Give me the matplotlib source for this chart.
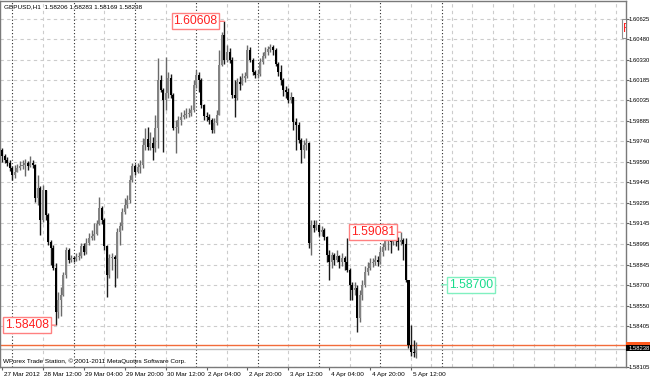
#!/usr/bin/env python3
'''
GBPUSD H1 candles, MetaTrader 4 look, 27 Mar - 5 Apr 2012
'''
import numpy as np
import matplotlib
matplotlib.use('Agg')
import matplotlib.pyplot as plt
from matplotlib.patches import Rectangle
from matplotlib.transforms import ScaledTranslation

symbol = 'GBPUSD,H1'

opens = [1.59676, 1.59633, 1.59604, 1.59582, 1.59546, 1.59495, 1.59517, 1.59546, 1.59560, 1.59567,
         1.59582, 1.59560, 1.59582, 1.59567, 1.59328, 1.59401, 1.59169, 1.59386, 1.59205, 1.59010,
         1.58966, 1.58822, 1.58503, 1.58590, 1.58626, 1.58771, 1.58952, 1.58880, 1.58894, 1.58887,
         1.58901, 1.58909, 1.58981, 1.58938, 1.59003, 1.59039, 1.59053, 1.59068, 1.59140, 1.59256,
         1.59169, 1.58981, 1.58771, 1.58894, 1.58901, 1.58887, 1.59082, 1.59126, 1.59227, 1.59278,
         1.59314, 1.59459, 1.59560, 1.59517, 1.59553, 1.59567, 1.59712, 1.59756, 1.59698, 1.59727,
         1.59690, 1.59835, 1.60183, 1.60110, 1.60038, 1.60089, 1.60197, 1.60074, 1.59835, 1.59843,
         1.59893, 1.59915, 1.59929, 1.59937, 1.59944, 1.59966, 1.60147, 1.60219, 1.60183, 1.60002,
         1.59922, 1.59915, 1.59893, 1.59821, 1.59871, 1.59929, 1.60291, 1.60509, 1.60328, 1.60386,
         1.60328, 1.60074, 1.60052, 1.60168, 1.60154, 1.60197, 1.60212, 1.60400, 1.60328, 1.60241,
         1.60219, 1.60226, 1.60313, 1.60357, 1.60386, 1.60407, 1.60422, 1.60400, 1.60299, 1.60241,
         1.60183, 1.60110, 1.60096, 1.60038, 1.60060, 1.59879, 1.59857, 1.59748, 1.59676, 1.59712,
         1.59727, 1.59003, 1.59133, 1.59111, 1.59133, 1.59082, 1.59097, 1.59046, 1.58916, 1.58865,
         1.58916, 1.58880, 1.58909, 1.58865, 1.58894, 1.58865, 1.58807, 1.58699, 1.58662, 1.58677,
         1.58460, 1.58626, 1.58699, 1.58793, 1.58822, 1.58858, 1.58865, 1.58880, 1.58865, 1.58938,
         1.58974, 1.59024, 1.59039, 1.59010, 1.59039, 1.59024, 1.59010, 1.59024, 1.58995, 1.58735,
         1.58264, 1.58213, 1.58206]

highs = [1.59690, 1.59647, 1.59625, 1.59604, 1.59560, 1.59567, 1.59575, 1.59596, 1.59604, 1.59611,
         1.59596, 1.59633, 1.59604, 1.59575, 1.59495, 1.59415, 1.59423, 1.59386, 1.59220, 1.59024,
         1.58988, 1.58858, 1.58648, 1.58684, 1.58793, 1.58974, 1.58966, 1.58916, 1.58909, 1.58930,
         1.58938, 1.59003, 1.59003, 1.59039, 1.59075, 1.59097, 1.59147, 1.59169, 1.59336, 1.59271,
         1.59184, 1.58988, 1.58923, 1.58930, 1.58916, 1.59111, 1.59155, 1.59256, 1.59328, 1.59350,
         1.59495, 1.59582, 1.59575, 1.59582, 1.59604, 1.59763, 1.59835, 1.59843, 1.59806, 1.59770,
         1.59929, 1.60342, 1.60219, 1.60125, 1.60349, 1.60241, 1.60226, 1.60089, 1.59893, 1.59922,
         1.59951, 1.59966, 1.59980, 1.59980, 1.60002, 1.60183, 1.60255, 1.60241, 1.60197, 1.60009,
         1.59951, 1.59937, 1.59908, 1.59908, 1.59966, 1.60400, 1.60530, 1.60608, 1.60436, 1.60414,
         1.60349, 1.60183, 1.60197, 1.60212, 1.60233, 1.60241, 1.60436, 1.60422, 1.60342, 1.60255,
         1.60255, 1.60342, 1.60386, 1.60422, 1.60429, 1.60443, 1.60436, 1.60414, 1.60313, 1.60291,
         1.60197, 1.60139, 1.60125, 1.60096, 1.60060, 1.59908, 1.59879, 1.59763, 1.59748, 1.59763,
         1.59734, 1.59169, 1.59169, 1.59169, 1.59140, 1.59126, 1.59111, 1.59053, 1.58952, 1.58938,
         1.58930, 1.58952, 1.58916, 1.58930, 1.58909, 1.59039, 1.58822, 1.58720, 1.58720, 1.58699,
         1.58662, 1.58735, 1.58836, 1.58865, 1.58894, 1.58894, 1.58916, 1.58909, 1.58974, 1.59003,
         1.59046, 1.59068, 1.59053, 1.59068, 1.59053, 1.59046, 1.59081, 1.59039, 1.59039, 1.58735,
         1.58409, 1.58300, 1.58283]

lows = [1.59589, 1.59582, 1.59560, 1.59524, 1.59459, 1.59473, 1.59517, 1.59531, 1.59538, 1.59488,
        1.59531, 1.59553, 1.59546, 1.59300, 1.59278, 1.59061, 1.59155, 1.59169, 1.58988, 1.58843,
        1.58807, 1.58408, 1.58460, 1.58474, 1.58619, 1.58749, 1.58858, 1.58865, 1.58865, 1.58872,
        1.58880, 1.58894, 1.58916, 1.58923, 1.58988, 1.59024, 1.59024, 1.59061, 1.59133, 1.59140,
        1.58952, 1.58612, 1.58749, 1.58807, 1.58684, 1.58749, 1.58988, 1.59097, 1.59213, 1.59256,
        1.59292, 1.59444, 1.59495, 1.59509, 1.59509, 1.59546, 1.59676, 1.59676, 1.59676, 1.59604,
        1.59662, 1.59690, 1.60096, 1.59662, 1.59966, 1.60052, 1.60052, 1.59821, 1.59654, 1.59799,
        1.59857, 1.59900, 1.59908, 1.59915, 1.59922, 1.59951, 1.60125, 1.60096, 1.59980, 1.59893,
        1.59886, 1.59864, 1.59799, 1.59799, 1.59857, 1.59929, 1.60284, 1.60299, 1.60313, 1.60306,
        1.60052, 1.59915, 1.60038, 1.60110, 1.60147, 1.60168, 1.60197, 1.60313, 1.60219, 1.60197,
        1.60197, 1.60212, 1.60299, 1.60342, 1.60364, 1.60386, 1.60364, 1.60284, 1.60212, 1.60147,
        1.60067, 1.60052, 1.60016, 1.60016, 1.59821, 1.59676, 1.59727, 1.59582, 1.59618, 1.59676,
        1.58966, 1.58916, 1.59082, 1.59097, 1.59053, 1.59053, 1.59024, 1.58865, 1.58735, 1.58822,
        1.58843, 1.58865, 1.58822, 1.58836, 1.58807, 1.58793, 1.58590, 1.58590, 1.58626, 1.58358,
        1.58431, 1.58590, 1.58684, 1.58771, 1.58807, 1.58829, 1.58843, 1.58836, 1.58851, 1.58909,
        1.58952, 1.58952, 1.58930, 1.58988, 1.58981, 1.58952, 1.58988, 1.58880, 1.58720, 1.58242,
        1.58185, 1.58177, 1.58169]

closes = [1.59633, 1.59604, 1.59582, 1.59546, 1.59495, 1.59517, 1.59546, 1.59560, 1.59567, 1.59582,
          1.59560, 1.59582, 1.59567, 1.59328, 1.59401, 1.59169, 1.59386, 1.59205, 1.59010, 1.58966,
          1.58822, 1.58503, 1.58590, 1.58626, 1.58771, 1.58952, 1.58880, 1.58894, 1.58887, 1.58901,
          1.58909, 1.58981, 1.58938, 1.59003, 1.59039, 1.59053, 1.59068, 1.59140, 1.59256, 1.59169,
          1.58981, 1.58771, 1.58894, 1.58901, 1.58887, 1.59082, 1.59126, 1.59227, 1.59278, 1.59314,
          1.59459, 1.59560, 1.59517, 1.59553, 1.59567, 1.59712, 1.59756, 1.59698, 1.59727, 1.59690,
          1.59835, 1.60183, 1.60110, 1.60038, 1.60089, 1.60197, 1.60074, 1.59835, 1.59843, 1.59893,
          1.59915, 1.59929, 1.59937, 1.59944, 1.59966, 1.60147, 1.60219, 1.60183, 1.60002, 1.59922,
          1.59915, 1.59893, 1.59821, 1.59871, 1.59929, 1.60291, 1.60509, 1.60328, 1.60386, 1.60328,
          1.60074, 1.60052, 1.60168, 1.60154, 1.60197, 1.60212, 1.60400, 1.60328, 1.60241, 1.60219,
          1.60226, 1.60313, 1.60357, 1.60386, 1.60407, 1.60422, 1.60400, 1.60299, 1.60241, 1.60183,
          1.60110, 1.60096, 1.60038, 1.60060, 1.59879, 1.59857, 1.59748, 1.59676, 1.59712, 1.59727,
          1.59003, 1.59133, 1.59111, 1.59133, 1.59082, 1.59097, 1.59046, 1.58916, 1.58865, 1.58916,
          1.58880, 1.58909, 1.58865, 1.58894, 1.58865, 1.58807, 1.58699, 1.58662, 1.58677, 1.58460,
          1.58626, 1.58699, 1.58793, 1.58822, 1.58858, 1.58865, 1.58880, 1.58865, 1.58938, 1.58974,
          1.59024, 1.59039, 1.59010, 1.59039, 1.59024, 1.59010, 1.59024, 1.58995, 1.58735, 1.58264,
          1.58213, 1.58206, 1.58238]

ask = 1.58264
level = 1.58700   # green price label

time_labels = ['27 Mar 2012', '28 Mar 12:00', '29 Mar 04:00', '29 Mar 20:00', '30 Mar 12:00',
               '2 Apr 04:00', '2 Apr 20:00', '3 Apr 12:00', '4 Apr 04:00', '4 Apr 20:00',
               '5 Apr 12:00']
price_labels = ['1.60625', '1.60480', '1.60330', '1.60185', '1.60035', '1.59885', '1.59740',
                '1.59590', '1.59445', '1.59295', '1.59145', '1.58995', '1.58845', '1.58700',
                '1.58550', '1.58405', '1.58105']
copyright_text = 'WForex Trade Station, \u00a9 2001-2011 MetaQuotes Software Corp.'

FONT = ['Liberation Sans', 'DejaVu Sans']
W, H, DPI = 650, 378, 100
SMALL = 4.6
SCALE = 4.2
BIG = 8.7

o, h, l, c = map(np.array, (opens, highs, lows, closes))
x = np.arange(len(c))
up = c >= o

fig = plt.figure(figsize=(W / DPI, H / DPI), dpi=DPI, facecolor='white')
ax = fig.add_axes([0, 11 / H, 626 / W, 366 / H])
ax.set_facecolor('white')
ax.set_xlim(-0.81, 244.1)
ax.set_ylim(1.58105, 1.60755)

### grid: light dashed lines + dark dotted day separators
yt = [float(s) for s in price_labels]
for v in yt:
    ax.axhline(v, color='#cccccc', lw=0.8, ls=(0, (3, 3)), zorder=0)
light = list(range(16, 161, 24)) + list(range(168, 244, 8))
for v in light:
    ax.axvline(v, color='#cccccc', lw=0.8, ls=(0, (3, 3)), zorder=0)
for v in range(4, 180, 24):
    ax.axvline(v, color='#2a2a2a', lw=0.8, ls=(0, (1, 2)), zorder=0.5)

### candles
ax.vlines(x[up], l[up], h[up], color='#6a6a6a', lw=1, zorder=2)
ax.vlines(x[~up], l[~up], h[~up], color='#1a1a1a', lw=1, zorder=2)
body_lo = np.minimum(o, c)
body_h = np.maximum(np.abs(c - o), 0.00002)
ax.bar(x[up], body_h[up], 0.8, body_lo[up], color='#838383', lw=0, zorder=3)
ax.bar(x[~up], body_h[~up], 0.8, body_lo[~up], color='black', lw=0, zorder=3)

### bid / ask lines
ax.axhline(ask, color='#f26b3a', lw=1, zorder=1.5)
ax.axhline(c[-1], color='#bdbdbd', lw=1, zorder=1.4)

### price marks
def mark(i, val, dx, fg, edge, ha):
    ax.annotate(f'{val:.5f}', xy=(i, val), xytext=(dx, 0), textcoords='offset pixels',
                ha=ha, va='center', color=fg, fontsize=BIG, family=FONT,
                bbox=dict(boxstyle='square,pad=0.15', fc='white', ec=edge, lw=1),
                arrowprops=dict(arrowstyle='-', color=edge, lw=1, shrinkA=0, shrinkB=0),
                zorder=6)

hi_i = int(np.argmax(h))
lo_i = int(np.argmin(l[:60]))
hi2_i = 140 + int(np.argmax(h[140:158]))
mark(hi_i, h[hi_i], -7, '#ff2020', '#ff8080', 'right')
mark(lo_i, l[lo_i], -7, '#ff2020', '#ff8080', 'right')
mark(hi2_i, h[hi2_i], -6, '#ff2020', '#ff8080', 'right')
mark(172, level, 7, '#19dc8c', '#80f0c0', 'left')

# object cut off at the right edge
ax.add_patch(Rectangle((242.5, 1.60487), 5, 0.00137, fc='white', ec='#909090', lw=0.8, zorder=6))
ax.text(242.9, 1.60555, 'F', color='#ff2020', fontsize=BIG, family=FONT,
        ha='left', va='center', clip_on=True, zorder=7)

### axes
for s in ax.spines.values():
    s.set_color('#7a7a7a')
    s.set_linewidth(1)
ax.yaxis.tick_right()
ax.set_yticks(yt, price_labels)
ax.tick_params(axis='y', direction='out', length=1.8, width=0.8, color='#606060', pad=0.3,
               labelsize=SCALE, labelcolor='black')
ax.set_xticks(range(0, 161, 16), time_labels)
ax.tick_params(axis='x', direction='out', length=2.5, width=0.8, color='#606060', pad=0.8,
               labelsize=SMALL, labelcolor='black')
off = ScaledTranslation(1.5 / DPI, 0, fig.dpi_scale_trans)
for t in ax.get_xticklabels():
    t.set_ha('left')
    t.set_family(FONT)
    t.set_transform(t.get_transform() + off)
for t in ax.get_yticklabels():
    t.set_family(FONT)

### texts
header = f'{symbol}  {o[-1]:.5f} {h[-1]:.5f} {l[-1]:.5f} {c[-1]:.5f}'
fig.text(4 / W, 1 - 6.5 / H, header, fontsize=SMALL, family=FONT, va='center')
fig.text(3 / W, 1 - 361 / H, copyright_text, fontsize=SMALL, family=FONT, va='center')

# current price boxes on the price scale
fig.add_artist(Rectangle((626 / W, 1 - 345.5 / H), 24 / W, 4 / H, transform=fig.transFigure,
                         fc='#ff5a1e', ec='none', zorder=5))
fig.add_artist(Rectangle((626 / W, 1 - 351 / H), 24 / W, 6 / H, transform=fig.transFigure,
                         fc='black', ec='none', zorder=5))
fig.text(628.3 / W, 1 - 348 / H, f'{c[-1]:.5f}', color='white', fontsize=SCALE,
         family=FONT, va='center', zorder=6)

fig.savefig('out.png', dpi=DPI, facecolor='white')
